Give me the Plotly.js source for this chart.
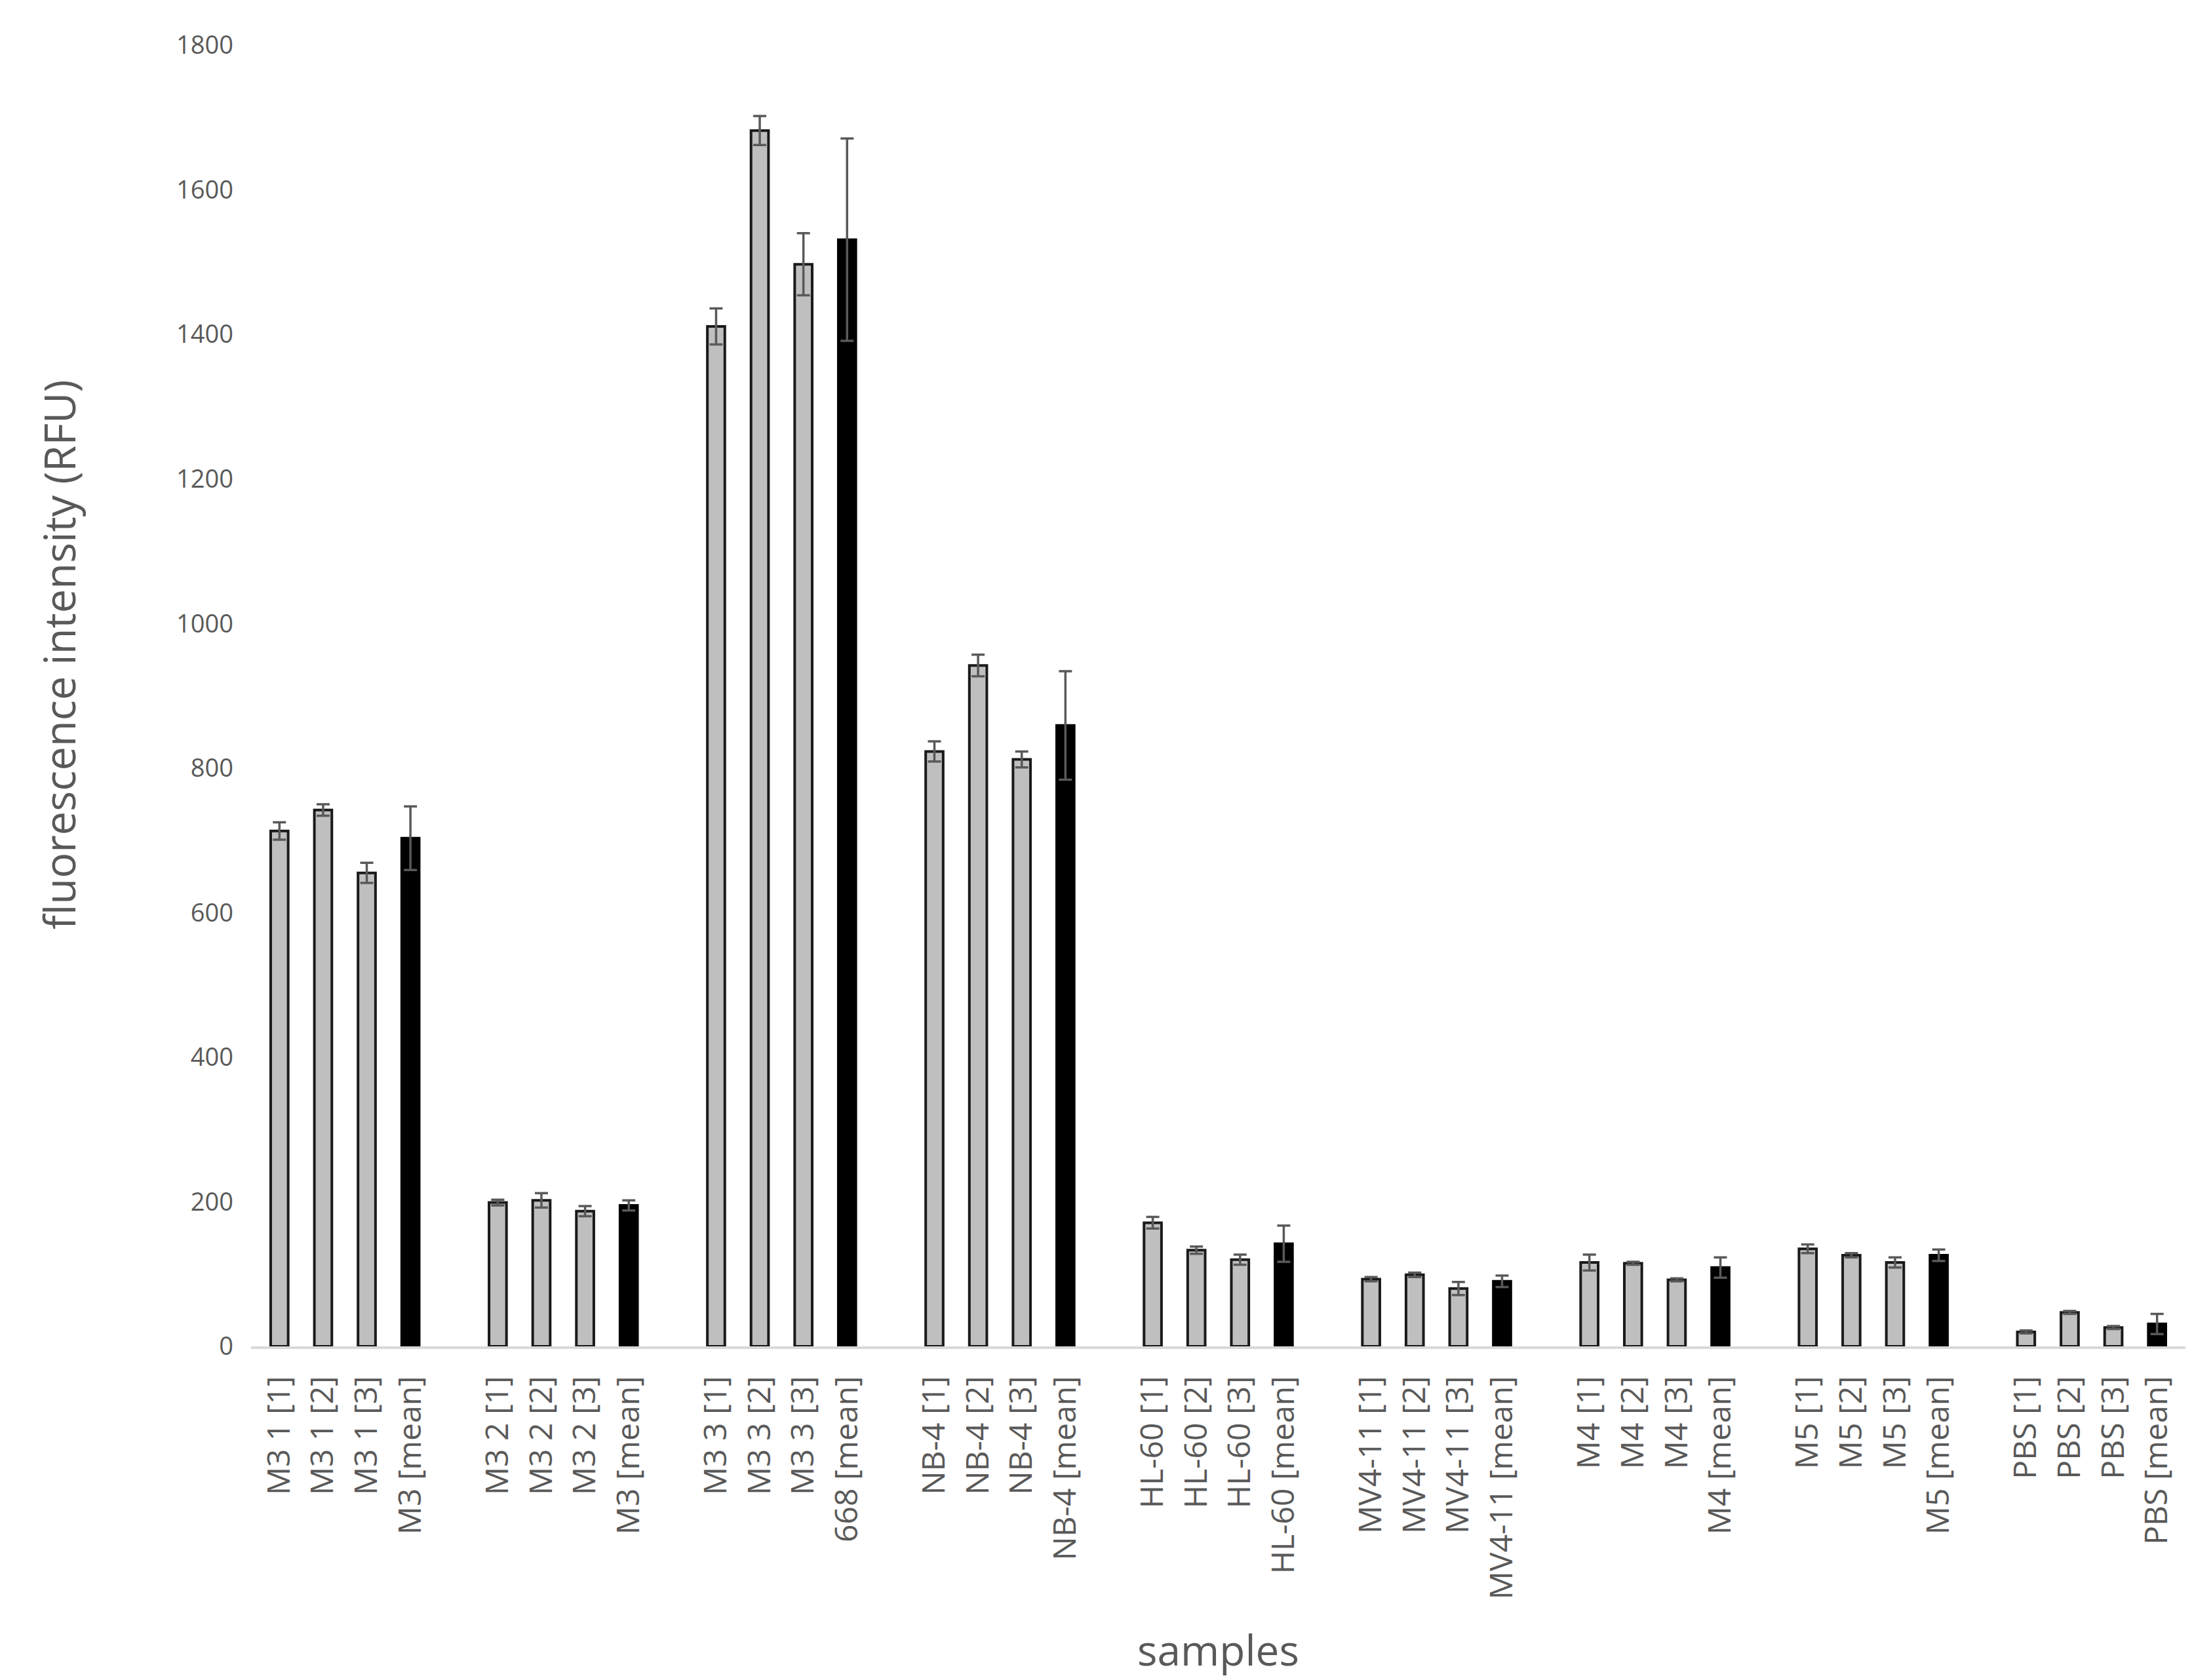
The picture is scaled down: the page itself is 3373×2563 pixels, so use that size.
<!DOCTYPE html>
<html>
<head>
<meta charset="utf-8">
<script src="https://cdn.plot.ly/plotly-3.0.1.min.js"></script>
<style>
  html, body { margin: 0; padding: 0; background: #fff; }
  #plot { width: 3373px; height: 2563px; }
</style>
</head>
<body>
<div id="plot"></div>
<script>
// sample groups, each: replicate 1..3 and a mean bar
const groupLabels = [
    ['M3 1 [1]', 'M3 1 [2]', 'M3 1 [3]', 'M3 [mean]'],
    ['M3 2 [1]', 'M3 2 [2]', 'M3 2 [3]', 'M3 [mean]'],
    ['M3 3 [1]', 'M3 3 [2]', 'M3 3 [3]', '668 [mean]'],
    ['NB-4 [1]', 'NB-4 [2]', 'NB-4 [3]', 'NB-4 [mean]'],
    ['HL-60 [1]', 'HL-60 [2]', 'HL-60 [3]', 'HL-60 [mean]'],
    ['MV4-11 [1]', 'MV4-11 [2]', 'MV4-11 [3]', 'MV4-11 [mean]'],
    ['M4 [1]', 'M4 [2]', 'M4 [3]', 'M4 [mean]'],
    ['M5 [1]', 'M5 [2]', 'M5 [3]', 'M5 [mean]'],
    ['PBS [1]', 'PBS [2]', 'PBS [3]', 'PBS [mean]']
];

const rep1 = [713, 199, 1411, 823, 171, 93, 116, 135, 20];
const rep2 = [742, 202, 1682, 942, 133, 99, 115, 126, 47];
const rep3 = [655, 187, 1497, 812, 120, 80, 92, 116, 26];
const means = [703, 195, 1531, 859, 142, 90, 109, 126, 31];

const err1 = [12, 4, 25, 14, 8, 3, 11, 6, 2];
const err2 = [8, 10, 20, 15, 5, 3, 2, 3, 2];
const err3 = [14, 7, 43, 11, 7, 9, 2, 7, 2];
const errMean = [44, 7, 140, 75, 25, 8, 14, 8, 14];

// one empty slot between groups
const slotsPerGroup = 5;

let xs = [], ys = [], es = [], fills = [], lines = [], tickvals = [], ticktext = [];
groupLabels.forEach((labels, g) => {
    const vals = [rep1[g], rep2[g], rep3[g], means[g]];
    const errs = [err1[g], err2[g], err3[g], errMean[g]];
    labels.forEach((lab, i) => {
        const x = g * slotsPerGroup + i;
        xs.push(x);
        ys.push(vals[i]);
        es.push(errs[i]);
        const isMean = i === 3;
        fills.push(isMean ? '#000000' : '#bfbfbf');
        lines.push(isMean ? '#000000' : '#1a1a1a');
        tickvals.push(x);
        ticktext.push(lab);
    });
});

const trace = {
    x: xs,
    y: ys,
    type: 'bar',
    width: 0.4,
    marker: { color: fills, line: { color: lines, width: 4 } },
    error_y: { type: 'data', array: es, visible: true, color: '#595959', thickness: 3.5, width: 10 },
    hoverinfo: 'x+y'
};

const font = "'Open Sans', 'Noto Sans', sans-serif";

Plotly.newPlot('plot', [trace], {
    width: 3373,
    height: 2563,
    margin: { l: 383, r: 39, t: 69, b: 509 },
    paper_bgcolor: '#ffffff',
    plot_bgcolor: '#ffffff',
    font: { family: font, color: '#595959' },
    showlegend: false,
    bargap: 0,
    xaxis: {
        range: [-0.65, 43.65],
        tickmode: 'array',
        tickvals: tickvals,
        ticktext: ticktext,
        tickangle: -90,
        tickfont: { size: 48, color: '#595959' },
        ticks: '',
        showgrid: false,
        zeroline: false,
        showline: true,
        linecolor: '#d9d9d9',
        linewidth: 4,
        ticklabelstandoff: 22,
        title: { text: 'samples', font: { size: 64, color: '#595959' }, standoff: 58 },
        automargin: false
    },
    yaxis: {
        range: [0, 1800],
        dtick: 200,
        tickfont: { size: 38, color: '#595959' },
        ticks: '',
        showgrid: false,
        zeroline: false,
        showline: false,
        ticklabelstandoff: 26,
        automargin: false
    },
    annotations: [{
        text: 'fluorescence intensity (RFU)',
        xref: 'paper', yref: 'paper',
        x: -0.0993, y: 0.532,
        xanchor: 'center', yanchor: 'middle',
        textangle: -90,
        showarrow: false,
        font: { size: 65, color: '#595959' }
    }]
}, { staticPlot: true });
</script>
</body>
</html>
